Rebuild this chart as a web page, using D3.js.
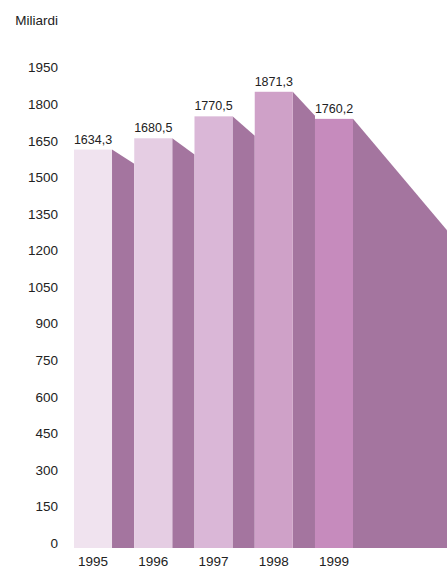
<!DOCTYPE html>
<html>
<head>
<meta charset="utf-8">
<script src="https://cdn.jsdelivr.net/npm/d3@7"></script>
<style>
  html, body { margin: 0; padding: 0; background: #fff; }
  svg { display: block; }
  text { font-family: "Liberation Sans", Arial, Helvetica, sans-serif; fill: #222; }
</style>
</head>
<body>
<svg id="chart" width="447" height="569"></svg>
<script>
const years = ["1995", "1996", "1997", "1998", "1999"];
const values = [1634.3, 1680.5, 1770.5, 1871.3, 1760.2];
const valueLabels = ["1634,3", "1680,5", "1770,5", "1871,3", "1760,2"];
const yTicks = [0, 150, 300, 450, 600, 750, 900, 1050, 1200, 1350, 1500, 1650, 1800, 1950];
const barColors = ["#f0e3ef", "#e5cde3", "#dab7d7", "#cfa1c8", "#c68bbd"];
const shadowColor = "#a4759f";
const unitLabel = "Miliardi";

const W = 447, H = 569;
const svg = d3.select("#chart");

const x = d3.scaleBand().domain(years).range([74, 353]).paddingInner(0.369).paddingOuter(0);
const y = d3.scaleLinear().domain([0, 1950]).range([548, 548 - 1950 * 0.2438]);
const bw = x.bandwidth();
const base = y(0);
const VP = { x: 687, y: 515 };

// shadows (side faces)
const shadowPts = years.map((yr, i) => {
  const x1 = x(yr) + bw;
  const yt = y(values[i]);
  const xe = i < years.length - 1 ? x(years[i + 1]) : W;
  const ye = yt + (xe - x1) * (VP.y - yt) / (VP.x - x1);
  return [[x1, yt], [xe, ye], [xe, base], [x1, base]];
});
svg.append("g").selectAll("path").data(shadowPts).join("path")
  .attr("d", d => "M" + d.map(p => p.join(",")).join("L") + "Z")
  .attr("fill", shadowColor);

// bars
svg.append("g").selectAll("rect").data(years).join("rect")
  .attr("x", d => x(d))
  .attr("y", (d, i) => y(values[i]))
  .attr("width", bw)
  .attr("height", (d, i) => base - y(values[i]))
  .attr("fill", (d, i) => barColors[i]);

// value labels
svg.append("g").selectAll("text").data(years).join("text")
  .attr("x", d => x(d) + bw / 2)
  .attr("y", (d, i) => y(values[i]) - 6)
  .attr("text-anchor", "middle")
  .style("font-size", "12.5px")
  .text((d, i) => valueLabels[i]);

// y axis
const yAxis = svg.append("g").attr("transform", "translate(58,0)")
  .call(d3.axisLeft(y).tickValues(yTicks).tickSize(0).tickPadding(0).tickFormat(d3.format("d")));
yAxis.select(".domain").remove();
yAxis.selectAll("text").style("font-size", "13.5px").attr("dy", "-0.05em")
  .style("font-family", "'Liberation Sans', Arial, sans-serif").attr("fill", "#222");

// x axis
const xAxis = svg.append("g").attr("transform", `translate(0,${base})`)
  .call(d3.axisBottom(x).tickSize(0).tickPadding(8));
xAxis.select(".domain").remove();
xAxis.selectAll("text").style("font-size", "13.5px")
  .style("font-family", "'Liberation Sans', Arial, sans-serif").attr("fill", "#222");

// unit label
svg.append("text").attr("x", 58).attr("y", 25).attr("text-anchor", "end")
  .style("font-size", "13.5px").text(unitLabel);
</script>
</body>
</html>
